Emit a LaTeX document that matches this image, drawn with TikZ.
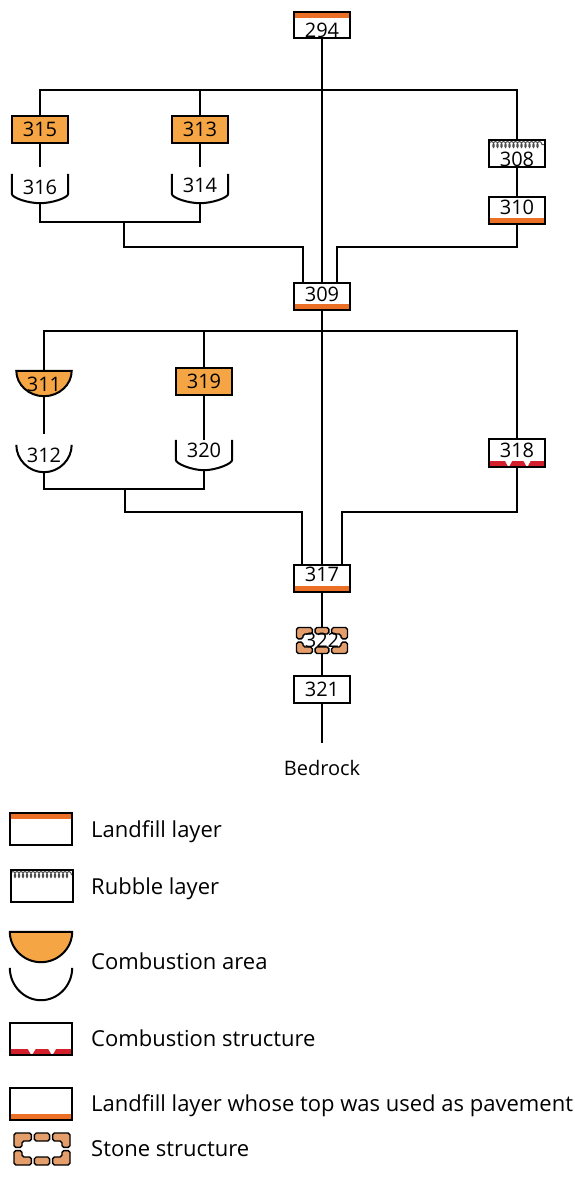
\documentclass[tikz,border=0pt]{standalone}
\usepackage{fontspec}
\setmainfont{Open Sans}
\usetikzlibrary{backgrounds,decorations.pathmorphing}
\definecolor{stripe}{HTML}{EC6F26}
\definecolor{comb}{HTML}{F6A545}
\definecolor{stonec}{HTML}{E39E6B}
\definecolor{burn}{HTML}{D3202C}
\tikzset{
  num/.style={font=\fontsize{20}{22}\selectfont},
  box/.style={draw, line width=2pt, minimum width=56pt, minimum height=27pt, inner sep=0pt, num, text height=14pt, text depth=0pt},
  lbox/.style={minimum width=62pt, minimum height=32pt},
  landtop/.style={box, path picture={\fill[stripe] (path picture bounding box.north west) rectangle ([yshift=-6pt]path picture bounding box.north east);}},
  landbot/.style={box, path picture={\fill[stripe] (path picture bounding box.south west) rectangle ([yshift=6pt]path picture bounding box.south east);}},
  combbox/.style={box, fill=comb},
  rubble/.style={box, path picture={\draw[black!70, line width=1pt, decorate, decoration={coil, segment length=4pt, amplitude=3pt, aspect=0.5}] ([xshift=0pt,yshift=-4.5pt]path picture bounding box.north west) -- ([xshift=0pt,yshift=-4.5pt]path picture bounding box.north east);}},
  burnbox/.style={box},
  cupn/.style={inner sep=0pt, minimum width=56pt, num, text height=14pt, text depth=0pt},
  stonen/.style={inner sep=0pt, minimum width=51pt, minimum height=26pt, num, text height=14pt, text depth=0pt},
  stonepc/.style={fill=stonec, draw=black, line width=1.4pt, rounded corners=1.8pt},
  ltext/.style={anchor=west, inner sep=0pt, font=\fontsize{22}{24}\selectfont, text height=15pt, text depth=0pt},
  conn/.style={line width=2pt},
}
\newcommand\stonepieces[4]{%
  \begin{scope}[shift={(#1)}]
  \foreach \sx in {1,-1}{\foreach \sy in {1,-1}{
    \filldraw[stonepc, xscale=\sx, yscale=\sy] (-#2,-1.6) -- (-#2,-#3) -- (-0.38*#2,-#3) -- (-0.38*#2,-#3+#4) -- (-#2+#4,-#3+#4) -- (-#2+#4,-1.6) -- cycle;}}
  \filldraw[stonepc] (-0.27*#2,-#3) rectangle (0.27*#2,-#3+#4);
  \filldraw[stonepc] (-0.27*#2,#3) rectangle (0.27*#2,#3-#4);
  \end{scope}}
\newcommand\burnbars[2]{%
  \begin{scope}[shift={(#1.south)}]
  \fill[burn] (-#2+1,-0.8) rectangle (#2-1,-7.5);
  \fill[white] (-0.44*#2,-7.8) -- (-0.16*#2,-7.8) -- (-0.3*#2,-0.6) -- cycle;
  \fill[white] (0.22*#2,-7.8) -- (0.5*#2,-7.8) -- (0.36*#2,-0.6) -- cycle;
  \end{scope}}
\newcommand\cupshape[2]{%
  \draw[line width=2pt] (#1.north west) -- ++(0,#2) .. controls +(0,4) and +(-12,0) .. (#1.south) .. controls +(12,0) and +(0,4) .. ([yshift=-#2pt]#1.north east) -- (#1.north east);}
\begin{document}
\begin{tikzpicture}[x=1pt,y=-1pt]
\useasboundingbox (0,0) rectangle (574,1191);
% ---- diagram nodes
\node[landtop, text height=25pt, minimum height=26pt] (n294) at (322,25) {294};
\node[combbox] (n315) at (40,129.5) {315};
\node[combbox] (n313) at (200,129.5) {313};
\node[rubble, text height=25pt] (n308) at (517,153.5) {308};
\node[landbot, text depth=6pt] (n310) at (517,210) {310};
\node[cupn, minimum height=29pt, text depth=2pt] (n316) at (40,188.5) {316};
\node[cupn, minimum height=29pt, text depth=6pt] (n314) at (200,188.5) {314};
\node[landbot, text depth=4pt] (n309) at (322,296) {309};
\node[cupn, minimum width=55pt, minimum height=25pt, text height=16pt] (n311) at (44,383.5) {311};
\node[combbox] (n319) at (204,381.5) {319};
\node[cupn, minimum width=55pt, minimum height=27pt, text depth=7pt] (n312) at (44,458.5) {312};
\node[cupn, minimum height=30pt, text depth=9pt] (n320) at (204,455) {320};
\node[burnbox, text depth=6pt, minimum height=28pt] (n318) at (517,453) {318};
\node[landbot, text depth=7pt] (n317) at (322,578) {317};
\node[stonen] (n322) at (322,640.5) {322};
\node[box] (n321) at (322,689.5) {321};
\node[num, inner sep=0pt, text height=14pt, text depth=0pt] (bed) at (322,768) {Bedrock};
% ---- legend nodes
\node[landtop, lbox] (l1) at (41,829) {};
\node[rubble, lbox] (l2) at (41.5,886) {};
\node[cupn, minimum width=62pt, minimum height=30pt] (l3a) at (41,947) {};
\node[cupn, minimum width=62pt, minimum height=32pt] (l3b) at (41,984) {};
\node[burnbox, lbox] (l4) at (41,1039) {};
\node[landbot, lbox] (l5) at (41,1104) {};
\node[stonen, minimum width=56pt, minimum height=32pt] (l6) at (42,1149) {};
\node[ltext] (t1) at (91,830) {Landfill layer};
\node[ltext] (t2) at (91,887) {Rubble layer};
\node[ltext] (t3) at (91,962) {Combustion area};
\node[ltext] (t4) at (91,1039) {Combustion structure};
\node[ltext] (t5) at (91,1104) {Landfill layer whose top was used as pavement};
\node[ltext] (t6) at (91,1149) {Stone structure};
% ---- shapes behind text
\begin{scope}[on background layer]
  \cupshape{n316}{20}
  \cupshape{n314}{20}
  \cupshape{n320}{20}
  \filldraw[fill=comb, line width=2pt] (n311.north west) -- (n311.north east) .. controls +(0,13.8) and +(15.2,0) .. (n311.south) .. controls +(-15.2,0) and +(0,13.8) .. (n311.north west) -- cycle;
  \draw[line width=2pt] (n312.north west) .. controls +(0,14.9) and +(-15.2,0) .. (n312.south) .. controls +(15.2,0) and +(0,14.9) .. (n312.north east);
  \filldraw[fill=comb, line width=2pt] (l3a.north west) -- (l3a.north east) .. controls +(0,16.6) and +(17.1,0) .. (l3a.south) .. controls +(-17.1,0) and +(0,16.6) .. (l3a.north west) -- cycle;
  \draw[line width=2pt] (l3b.north west) .. controls +(0,17.7) and +(-17.1,0) .. (l3b.south) .. controls +(17.1,0) and +(0,17.7) .. (l3b.north east);
  \burnbars{n318}{28}
  \burnbars{l4}{31}
  \stonepieces{n322}{25.5}{13}{6.5}
  \stonepieces{l6}{28}{16}{8}
\end{scope}
% ---- connectors
\coordinate (bus1) at (0,90);
\coordinate (j1) at (124,222);
\coordinate (k1) at (0,247);
\coordinate (bus2) at (0,331);
\coordinate (j2) at (125,489);
\coordinate (k2) at (0,512);
\begin{scope}[conn]
\draw (n294.south) -- (n309.north);
\draw (n315.north) |- (bus1 -| n308) -- (n308.north);
\draw (n313.north) -- (n313 |- bus1);
\draw (n315.south) -- ([yshift=7pt]n316.north);
\draw (n313.south) -- ([yshift=7pt]n314.north);
\draw (n308.south) -- (n310.north);
\draw (n316.south) |- (j1) -| (n314.south);
\draw (j1) -- (j1 |- k1) -| ([xshift=-19pt]n309.north);
\draw (n310.south) -- (n310 |- k1) -| ([xshift=15pt]n309.north);
\draw (n309.south) -- (n317.north);
\draw (n311.north) |- (bus2 -| n318) -- (n318.north);
\draw (n319.north) -- (n319 |- bus2);
\draw (n311.south) -- ([yshift=11pt]n312.north);
\draw (n319.south) -- (n320.north);
\draw (n312.south) |- (j2) -| (n320.south);
\draw (j2) -- (j2 |- k2) -| ([xshift=-20pt]n317.north);
\draw (n318.south) -- (n318 |- k2) -| ([xshift=20pt]n317.north);
\draw (n317.south) -- (n322.north);
\draw (n322.south) -- (n321.north);
\draw (n321.south) -- ([yshift=18pt]bed.north);
\end{scope}
\end{tikzpicture}
\end{document}
